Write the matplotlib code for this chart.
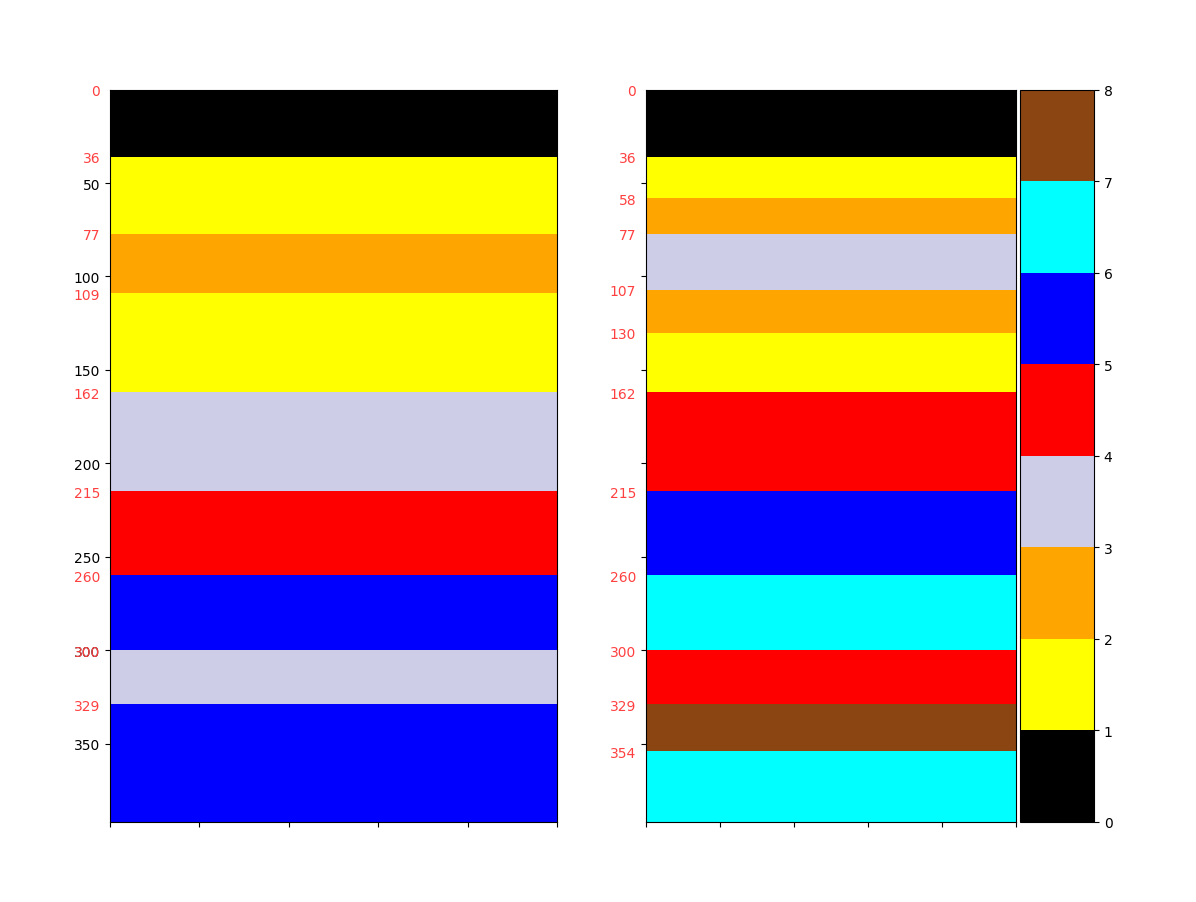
import numpy as np
import matplotlib
matplotlib.use('Agg')
import matplotlib.pyplot as plt
import matplotlib.transforms as mtransforms
from matplotlib.colors import ListedColormap

# facies colours, code 0..7
colors = ['black', 'yellow', 'orange', '#cdcde8', 'red', 'blue', 'cyan', '#8b4513']

bottom = 392

left_tops = [0, 36, 77, 109, 162, 215, 260, 300, 329]
left_codes = [0, 1, 2, 1, 3, 4, 5, 3, 5]

right_tops = [0, 36, 58, 77, 107, 130, 162, 215, 260, 300, 329, 354]
right_codes = [0, 1, 2, 3, 2, 1, 4, 5, 6, 4, 7, 6]

black_ticks = [50, 100, 150, 200, 250, 300, 350]

cmap = ListedColormap(colors)


def draw_column(ax, tops, codes, fig, show_labels):
    edges = np.array(tops + [bottom])
    z = np.array(codes).reshape(-1, 1)
    mesh = ax.pcolormesh([0, 1], edges, z, cmap=cmap, vmin=0, vmax=8)
    ax.set_ylim(bottom, 0)
    ax.set_xlim(0, 1)
    ax.set_xticks(np.linspace(0, 1, 6))
    ax.set_xticklabels([])
    ax.set_yticks(black_ticks)
    if not show_labels:
        ax.set_yticklabels([])
    trans = mtransforms.offset_copy(ax.get_yaxis_transform(), fig=fig,
                                    x=-7, y=0, units='points')
    for t in tops:
        ax.text(0, t, str(t), color='#ff4040', ha='right',
                va='center_baseline', transform=trans, fontsize=10, zorder=5)
    return mesh


fig = plt.figure(figsize=(11.96, 9.03), dpi=100)
ax1 = fig.add_axes([0.0920, 0.0886, 0.3737, 0.8110])
ax2 = fig.add_axes([0.5401, 0.0886, 0.3094, 0.8110])
cax = fig.add_axes([0.8528, 0.0886, 0.0619, 0.8110])

draw_column(ax1, left_tops, left_codes, fig, True)
mesh = draw_column(ax2, right_tops, right_codes, fig, False)

cb = fig.colorbar(mesh, cax=cax)
cb.set_ticks(range(9))

fig.savefig('out.png', dpi=100)
